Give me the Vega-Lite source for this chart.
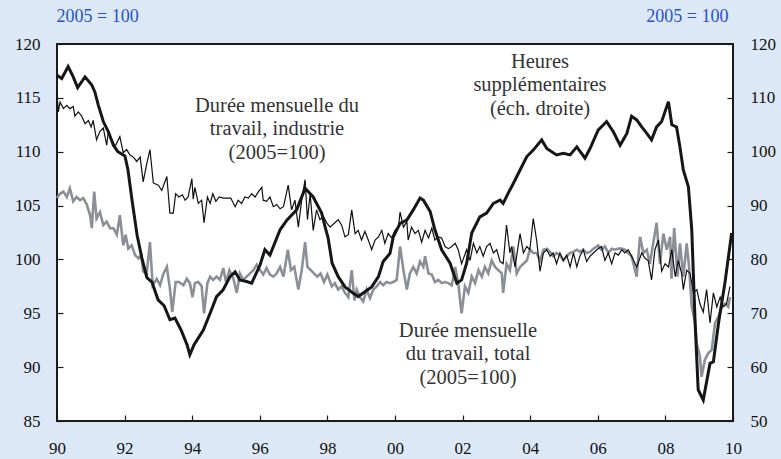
{
  "$schema": "https://vega.github.io/schema/vega-lite/v6.json",
  "width": 676,
  "height": 377,
  "autosize": {"type": "none"},
  "padding": {"left": 57, "top": 44, "right": 48, "bottom": 38},
  "background": "#dde8f7",
  "config": {
    "view": {"fill": "#ffffff", "stroke": "#1a1a1a", "strokeWidth": 2},
    "font": "Liberation Serif",
    "axis": {"grid": false, "domain": false, "tickColor": "#1a1a1a", "tickWidth": 1.2, "labelColor": "#111111", "labelFont": "Liberation Serif", "labelFontSize": 17}
  },
  "datasets": {
    "ot": [
      {"t":1990.00,"v":114.2},{"t":1990.14,"v":113.6},{"t":1990.33,"v":115.8},{"t":1990.48,"v":113.9},{"t":1990.61,"v":111.9},{"t":1990.83,"v":113.9},{"t":1991.03,"v":112.4},{"t":1991.12,"v":111.1},{"t":1991.22,"v":108.7},{"t":1991.37,"v":105.6},{"t":1991.52,"v":103.7},{"t":1991.67,"v":101.2},{"t":1991.80,"v":100.0},{"t":1992.01,"v":99.2},{"t":1992.10,"v":96.6},{"t":1992.22,"v":91.0},{"t":1992.37,"v":84.5},{"t":1992.51,"v":80.3},{"t":1992.66,"v":76.6},{"t":1992.81,"v":75.8},{"t":1992.99,"v":72.5},{"t":1993.17,"v":71.4},{"t":1993.34,"v":68.8},{"t":1993.49,"v":69.1},{"t":1993.67,"v":66.9},{"t":1993.85,"v":64.1},{"t":1993.93,"v":62.3},{"t":1994.05,"v":64.1},{"t":1994.33,"v":66.9},{"t":1994.53,"v":70.0},{"t":1994.72,"v":73.1},{"t":1994.91,"v":74.3},{"t":1995.12,"v":76.8},{"t":1995.27,"v":77.7},{"t":1995.41,"v":76.2},{"t":1995.61,"v":75.9},{"t":1995.76,"v":75.6},{"t":1996.01,"v":79.0},{"t":1996.15,"v":81.8},{"t":1996.30,"v":80.8},{"t":1996.60,"v":85.5},{"t":1996.80,"v":87.3},{"t":1997.09,"v":89.2},{"t":1997.34,"v":93.2},{"t":1997.58,"v":91.6},{"t":1997.83,"v":88.6},{"t":1997.93,"v":86.1},{"t":1998.02,"v":84.0},{"t":1998.14,"v":79.3},{"t":1998.32,"v":76.8},{"t":1998.52,"v":74.9},{"t":1998.77,"v":73.7},{"t":1998.91,"v":73.1},{"t":1999.11,"v":74.0},{"t":1999.31,"v":74.9},{"t":1999.51,"v":76.8},{"t":1999.65,"v":79.6},{"t":1999.85,"v":81.1},{"t":1999.95,"v":84.2},{"t":2000.15,"v":86.7},{"t":2000.35,"v":87.3},{"t":2000.54,"v":89.2},{"t":2000.74,"v":91.4},{"t":2000.84,"v":91.0},{"t":2001.04,"v":88.9},{"t":2001.18,"v":85.5},{"t":2001.38,"v":81.8},{"t":2001.63,"v":79.3},{"t":2001.83,"v":75.6},{"t":2001.97,"v":76.2},{"t":2002.12,"v":79.3},{"t":2002.27,"v":84.9},{"t":2002.51,"v":87.9},{"t":2002.71,"v":88.6},{"t":2002.91,"v":90.4},{"t":2003.11,"v":91.0},{"t":2003.20,"v":90.4},{"t":2003.35,"v":92.3},{"t":2003.50,"v":94.1},{"t":2003.70,"v":96.6},{"t":2003.90,"v":99.1},{"t":2004.09,"v":100.3},{"t":2004.34,"v":102.2},{"t":2004.49,"v":100.6},{"t":2004.78,"v":99.4},{"t":2004.98,"v":99.7},{"t":2005.18,"v":99.4},{"t":2005.38,"v":100.9},{"t":2005.62,"v":98.8},{"t":2005.77,"v":100.6},{"t":2006.01,"v":104.0},{"t":2006.26,"v":105.6},{"t":2006.46,"v":103.7},{"t":2006.66,"v":101.2},{"t":2006.86,"v":103.4},{"t":2007.00,"v":106.6},{"t":2007.15,"v":105.9},{"t":2007.30,"v":104.6},{"t":2007.45,"v":103.4},{"t":2007.59,"v":102.2},{"t":2007.74,"v":104.6},{"t":2007.89,"v":105.6},{"t":2008.09,"v":109.3},{"t":2008.19,"v":105.0},{"t":2008.33,"v":104.6},{"t":2008.43,"v":100.9},{"t":2008.53,"v":96.6},{"t":2008.68,"v":93.5},{"t":2008.78,"v":85.5},{"t":2008.88,"v":68.1},{"t":2008.97,"v":55.8},{"t":2009.12,"v":53.9},{"t":2009.32,"v":60.7},{"t":2009.42,"v":61.0},{"t":2009.57,"v":68.1},{"t":2009.76,"v":75.6},{"t":2009.96,"v":84.9}
    ],
    "ind": [
      {"t":1990.00,"v":115.4},{"t":1990.04,"v":113.7},{"t":1990.09,"v":114.6},{"t":1990.19,"v":114.0},{"t":1990.29,"v":114.3},{"t":1990.38,"v":114.0},{"t":1990.48,"v":114.2},{"t":1990.53,"v":113.3},{"t":1990.63,"v":113.7},{"t":1990.73,"v":113.3},{"t":1990.83,"v":112.6},{"t":1990.93,"v":112.9},{"t":1991.01,"v":112.3},{"t":1991.07,"v":112.9},{"t":1991.17,"v":111.1},{"t":1991.27,"v":111.9},{"t":1991.37,"v":112.2},{"t":1991.47,"v":110.6},{"t":1991.52,"v":111.9},{"t":1991.62,"v":111.1},{"t":1991.72,"v":110.5},{"t":1991.86,"v":111.4},{"t":1991.96,"v":109.9},{"t":1992.06,"v":110.2},{"t":1992.16,"v":109.7},{"t":1992.26,"v":109.5},{"t":1992.36,"v":109.1},{"t":1992.46,"v":109.5},{"t":1992.55,"v":107.2},{"t":1992.65,"v":108.8},{"t":1992.75,"v":110.2},{"t":1992.85,"v":107.1},{"t":1993.00,"v":106.9},{"t":1993.10,"v":106.4},{"t":1993.25,"v":107.7},{"t":1993.34,"v":104.3},{"t":1993.44,"v":104.3},{"t":1993.51,"v":106.1},{"t":1993.61,"v":105.8},{"t":1993.71,"v":106.0},{"t":1993.79,"v":105.5},{"t":1993.88,"v":105.8},{"t":1993.99,"v":107.5},{"t":1994.03,"v":105.6},{"t":1994.08,"v":106.7},{"t":1994.18,"v":105.2},{"t":1994.28,"v":105.5},{"t":1994.35,"v":103.4},{"t":1994.45,"v":105.8},{"t":1994.53,"v":105.2},{"t":1994.61,"v":106.1},{"t":1994.70,"v":105.4},{"t":1994.80,"v":105.8},{"t":1994.92,"v":105.7},{"t":1995.02,"v":105.7},{"t":1995.14,"v":105.7},{"t":1995.27,"v":104.9},{"t":1995.36,"v":105.5},{"t":1995.46,"v":105.2},{"t":1995.56,"v":105.8},{"t":1995.66,"v":105.7},{"t":1995.76,"v":106.1},{"t":1995.86,"v":105.8},{"t":1995.96,"v":106.3},{"t":1996.06,"v":106.7},{"t":1996.10,"v":105.5},{"t":1996.20,"v":105.4},{"t":1996.30,"v":105.8},{"t":1996.40,"v":104.9},{"t":1996.50,"v":105.1},{"t":1996.60,"v":104.7},{"t":1996.70,"v":104.9},{"t":1996.84,"v":106.9},{"t":1996.94,"v":104.6},{"t":1997.04,"v":105.5},{"t":1997.14,"v":103.0},{"t":1997.24,"v":105.5},{"t":1997.34,"v":107.4},{"t":1997.41,"v":103.7},{"t":1997.49,"v":106.1},{"t":1997.58,"v":102.7},{"t":1997.68,"v":104.6},{"t":1997.78,"v":103.7},{"t":1997.88,"v":104.0},{"t":1997.98,"v":103.4},{"t":1998.08,"v":103.0},{"t":1998.22,"v":103.4},{"t":1998.32,"v":103.7},{"t":1998.42,"v":103.2},{"t":1998.52,"v":102.1},{"t":1998.62,"v":102.3},{"t":1998.72,"v":104.6},{"t":1998.82,"v":102.4},{"t":1998.91,"v":102.7},{"t":1999.01,"v":101.8},{"t":1999.11,"v":102.6},{"t":1999.21,"v":101.8},{"t":1999.31,"v":100.9},{"t":1999.41,"v":101.8},{"t":1999.51,"v":102.1},{"t":1999.61,"v":102.7},{"t":1999.70,"v":101.5},{"t":1999.80,"v":102.4},{"t":1999.90,"v":102.0},{"t":2000.00,"v":102.7},{"t":2000.10,"v":103.0},{"t":2000.15,"v":104.4},{"t":2000.25,"v":103.0},{"t":2000.35,"v":103.5},{"t":2000.39,"v":101.8},{"t":2000.49,"v":103.0},{"t":2000.59,"v":102.4},{"t":2000.69,"v":102.7},{"t":2000.79,"v":101.6},{"t":2000.89,"v":102.7},{"t":2000.99,"v":102.0},{"t":2001.09,"v":102.9},{"t":2001.18,"v":101.8},{"t":2001.28,"v":102.1},{"t":2001.38,"v":102.0},{"t":2001.48,"v":101.2},{"t":2001.58,"v":101.0},{"t":2001.68,"v":101.2},{"t":2001.78,"v":101.5},{"t":2001.87,"v":100.9},{"t":2001.97,"v":99.6},{"t":2002.12,"v":100.9},{"t":2002.22,"v":99.9},{"t":2002.32,"v":101.5},{"t":2002.42,"v":100.6},{"t":2002.51,"v":101.2},{"t":2002.61,"v":100.3},{"t":2002.71,"v":101.2},{"t":2002.81,"v":101.5},{"t":2002.91,"v":100.6},{"t":2003.01,"v":100.9},{"t":2003.11,"v":99.8},{"t":2003.20,"v":99.6},{"t":2003.30,"v":103.2},{"t":2003.40,"v":100.6},{"t":2003.45,"v":101.2},{"t":2003.55,"v":99.3},{"t":2003.70,"v":102.4},{"t":2003.80,"v":100.6},{"t":2003.90,"v":101.2},{"t":2003.99,"v":100.9},{"t":2004.09,"v":103.8},{"t":2004.19,"v":101.8},{"t":2004.29,"v":98.9},{"t":2004.39,"v":100.6},{"t":2004.49,"v":100.9},{"t":2004.59,"v":100.3},{"t":2004.68,"v":100.6},{"t":2004.78,"v":99.6},{"t":2004.88,"v":100.6},{"t":2004.98,"v":99.9},{"t":2005.08,"v":100.4},{"t":2005.18,"v":99.3},{"t":2005.28,"v":100.6},{"t":2005.38,"v":99.3},{"t":2005.47,"v":100.3},{"t":2005.57,"v":100.9},{"t":2005.67,"v":99.8},{"t":2005.77,"v":100.3},{"t":2005.87,"v":100.6},{"t":2005.97,"v":100.9},{"t":2006.01,"v":101.0},{"t":2006.11,"v":101.2},{"t":2006.21,"v":99.9},{"t":2006.31,"v":100.6},{"t":2006.41,"v":99.6},{"t":2006.51,"v":100.6},{"t":2006.61,"v":100.4},{"t":2006.71,"v":100.9},{"t":2006.80,"v":100.6},{"t":2006.90,"v":100.9},{"t":2007.00,"v":100.3},{"t":2007.15,"v":99.3},{"t":2007.30,"v":100.6},{"t":2007.40,"v":100.1},{"t":2007.49,"v":99.9},{"t":2007.59,"v":98.1},{"t":2007.69,"v":100.9},{"t":2007.79,"v":101.8},{"t":2007.89,"v":98.9},{"t":2007.99,"v":99.6},{"t":2008.09,"v":99.3},{"t":2008.19,"v":100.9},{"t":2008.29,"v":98.4},{"t":2008.38,"v":99.9},{"t":2008.48,"v":98.7},{"t":2008.53,"v":97.2},{"t":2008.63,"v":99.0},{"t":2008.73,"v":98.7},{"t":2008.83,"v":96.9},{"t":2008.93,"v":97.2},{"t":2009.02,"v":95.9},{"t":2009.12,"v":95.1},{"t":2009.22,"v":97.2},{"t":2009.32,"v":94.1},{"t":2009.42,"v":96.9},{"t":2009.52,"v":95.6},{"t":2009.62,"v":96.5},{"t":2009.71,"v":95.6},{"t":2009.81,"v":95.9},{"t":2009.91,"v":97.5}
    ],
    "tot": [
      {"t":1990.00,"v":105.7},{"t":1990.09,"v":106.1},{"t":1990.19,"v":106.3},{"t":1990.29,"v":105.8},{"t":1990.38,"v":106.6},{"t":1990.48,"v":105.4},{"t":1990.58,"v":105.8},{"t":1990.68,"v":105.5},{"t":1990.78,"v":105.7},{"t":1990.88,"v":105.1},{"t":1990.98,"v":104.1},{"t":1991.03,"v":102.9},{"t":1991.10,"v":106.3},{"t":1991.17,"v":103.8},{"t":1991.27,"v":104.4},{"t":1991.37,"v":103.2},{"t":1991.47,"v":103.5},{"t":1991.57,"v":102.9},{"t":1991.67,"v":102.9},{"t":1991.77,"v":102.3},{"t":1991.86,"v":104.1},{"t":1991.96,"v":101.3},{"t":1992.03,"v":102.3},{"t":1992.11,"v":101.0},{"t":1992.21,"v":101.3},{"t":1992.31,"v":100.4},{"t":1992.41,"v":100.1},{"t":1992.49,"v":100.4},{"t":1992.55,"v":98.9},{"t":1992.65,"v":98.6},{"t":1992.75,"v":101.6},{"t":1992.83,"v":97.6},{"t":1992.95,"v":98.2},{"t":1993.05,"v":97.6},{"t":1993.14,"v":98.6},{"t":1993.25,"v":99.3},{"t":1993.34,"v":97.3},{"t":1993.41,"v":95.1},{"t":1993.51,"v":97.9},{"t":1993.61,"v":97.9},{"t":1993.74,"v":97.6},{"t":1993.84,"v":98.2},{"t":1993.93,"v":97.8},{"t":1994.01,"v":96.5},{"t":1994.08,"v":97.8},{"t":1994.18,"v":97.9},{"t":1994.28,"v":97.5},{"t":1994.35,"v":95.0},{"t":1994.45,"v":97.8},{"t":1994.53,"v":98.4},{"t":1994.62,"v":98.1},{"t":1994.72,"v":98.4},{"t":1994.82,"v":98.1},{"t":1994.92,"v":99.2},{"t":1995.00,"v":97.9},{"t":1995.10,"v":99.0},{"t":1995.22,"v":98.2},{"t":1995.32,"v":96.9},{"t":1995.41,"v":98.7},{"t":1995.51,"v":98.1},{"t":1995.61,"v":98.4},{"t":1995.71,"v":98.7},{"t":1995.81,"v":99.0},{"t":1995.91,"v":99.5},{"t":1996.01,"v":99.0},{"t":1996.10,"v":98.6},{"t":1996.20,"v":99.2},{"t":1996.30,"v":98.6},{"t":1996.40,"v":98.4},{"t":1996.50,"v":98.7},{"t":1996.60,"v":99.3},{"t":1996.70,"v":98.4},{"t":1996.83,"v":100.9},{"t":1996.92,"v":99.0},{"t":1997.02,"v":99.3},{"t":1997.14,"v":97.2},{"t":1997.24,"v":99.0},{"t":1997.34,"v":101.6},{"t":1997.41,"v":99.3},{"t":1997.51,"v":99.0},{"t":1997.60,"v":98.7},{"t":1997.70,"v":98.4},{"t":1997.80,"v":98.7},{"t":1997.90,"v":97.9},{"t":1998.00,"v":98.6},{"t":1998.13,"v":97.5},{"t":1998.22,"v":97.8},{"t":1998.32,"v":97.2},{"t":1998.42,"v":97.5},{"t":1998.52,"v":96.9},{"t":1998.62,"v":96.5},{"t":1998.72,"v":99.0},{"t":1998.80,"v":96.2},{"t":1998.87,"v":97.2},{"t":1998.96,"v":96.5},{"t":1999.06,"v":96.1},{"t":1999.16,"v":97.2},{"t":1999.26,"v":96.4},{"t":1999.36,"v":97.2},{"t":1999.46,"v":97.5},{"t":1999.56,"v":97.9},{"t":1999.65,"v":97.6},{"t":1999.75,"v":97.9},{"t":1999.85,"v":97.8},{"t":1999.95,"v":97.9},{"t":2000.05,"v":98.1},{"t":2000.15,"v":101.2},{"t":2000.25,"v":99.0},{"t":2000.35,"v":97.2},{"t":2000.44,"v":98.7},{"t":2000.54,"v":99.3},{"t":2000.64,"v":98.7},{"t":2000.74,"v":99.8},{"t":2000.84,"v":99.3},{"t":2000.89,"v":100.3},{"t":2000.99,"v":98.7},{"t":2001.09,"v":98.6},{"t":2001.18,"v":97.9},{"t":2001.28,"v":98.1},{"t":2001.38,"v":97.8},{"t":2001.48,"v":97.9},{"t":2001.58,"v":97.8},{"t":2001.68,"v":97.6},{"t":2001.78,"v":99.3},{"t":2001.87,"v":97.8},{"t":2001.97,"v":95.0},{"t":2002.07,"v":97.5},{"t":2002.17,"v":96.9},{"t":2002.27,"v":98.4},{"t":2002.37,"v":97.8},{"t":2002.47,"v":99.0},{"t":2002.57,"v":98.4},{"t":2002.66,"v":99.3},{"t":2002.76,"v":98.7},{"t":2002.86,"v":99.9},{"t":2002.96,"v":99.3},{"t":2003.06,"v":99.0},{"t":2003.16,"v":98.7},{"t":2003.20,"v":96.9},{"t":2003.30,"v":99.6},{"t":2003.40,"v":99.0},{"t":2003.50,"v":101.2},{"t":2003.60,"v":98.7},{"t":2003.70,"v":99.3},{"t":2003.80,"v":99.6},{"t":2003.90,"v":99.9},{"t":2003.99,"v":100.9},{"t":2004.09,"v":100.6},{"t":2004.19,"v":100.6},{"t":2004.29,"v":99.9},{"t":2004.39,"v":100.9},{"t":2004.49,"v":101.0},{"t":2004.59,"v":100.7},{"t":2004.68,"v":100.3},{"t":2004.78,"v":100.6},{"t":2004.88,"v":100.4},{"t":2004.98,"v":99.9},{"t":2005.08,"v":100.3},{"t":2005.18,"v":100.6},{"t":2005.28,"v":100.7},{"t":2005.38,"v":100.9},{"t":2005.47,"v":100.7},{"t":2005.57,"v":100.9},{"t":2005.67,"v":100.6},{"t":2005.77,"v":100.7},{"t":2005.87,"v":101.0},{"t":2005.97,"v":101.2},{"t":2006.01,"v":101.3},{"t":2006.11,"v":100.9},{"t":2006.21,"v":101.2},{"t":2006.31,"v":100.6},{"t":2006.41,"v":101.0},{"t":2006.51,"v":100.9},{"t":2006.61,"v":101.0},{"t":2006.71,"v":101.0},{"t":2006.80,"v":100.9},{"t":2006.90,"v":100.6},{"t":2007.00,"v":100.3},{"t":2007.15,"v":98.4},{"t":2007.25,"v":102.1},{"t":2007.35,"v":100.6},{"t":2007.45,"v":100.9},{"t":2007.54,"v":99.6},{"t":2007.64,"v":101.5},{"t":2007.74,"v":103.4},{"t":2007.84,"v":99.6},{"t":2007.94,"v":102.4},{"t":2008.04,"v":100.9},{"t":2008.14,"v":102.1},{"t":2008.18,"v":98.2},{"t":2008.26,"v":102.9},{"t":2008.36,"v":98.4},{"t":2008.43,"v":101.5},{"t":2008.53,"v":98.4},{"t":2008.63,"v":101.5},{"t":2008.70,"v":99.3},{"t":2008.78,"v":95.6},{"t":2008.88,"v":94.1},{"t":2008.93,"v":92.2},{"t":2009.02,"v":91.0},{"t":2009.07,"v":89.1},{"t":2009.17,"v":90.7},{"t":2009.27,"v":91.3},{"t":2009.37,"v":91.6},{"t":2009.47,"v":94.1},{"t":2009.57,"v":94.7},{"t":2009.67,"v":95.6},{"t":2009.76,"v":95.9},{"t":2009.86,"v":95.6},{"t":2009.91,"v":96.5}
    ],
    "notes": [
      {"t":1996.51,"v":115.2,"label":"Durée mensuelle du\ntravail, industrie\n(2005=100)"},
      {"t":2004.29,"v":119.28,"label":"Heures\nsupplémentaires\n(éch. droite)"},
      {"t":2002.16,"v":94.3,"label":"Durée mensuelle\ndu travail, total\n(2005=100)"}
    ]
  },
  "layer": [
    {
      "layer": [
        {
          "data": {"name": "tot"},
          "mark": {"type": "line", "color": "#8b9096", "strokeWidth": 2.6},
          "encoding": {
            "x": {"field": "t", "type": "quantitative", "scale": {"domain": [1990, 2010], "nice": false, "zero": false},
              "axis": {"orient": "bottom", "values": [1990,1992,1994,1996,1998,2000,2002,2004,2006,2008,2010], "labelExpr": "substring(toString(datum.value), 2)", "tickSize": -6, "labelPadding": 25, "title": null, "labelFlush": false}},
            "y": {"field": "v", "type": "quantitative", "scale": {"domain": [85, 120], "nice": false, "zero": false},
              "axis": {"orient": "left", "values": [85,90,95,100,105,110,115,120], "tickSize": -6, "labelPadding": 23, "title": "2005 = 100", "titleAngle": 0, "titleAlign": "left", "titleBaseline": "middle", "titleX": -1, "titleY": -28, "titleColor": "#2453c9", "titleFontSize": 18, "titleFontWeight": "normal", "titleFont": "Liberation Serif"}}
          }
        },
        {
          "data": {"name": "ind"},
          "mark": {"type": "line", "color": "#111111", "strokeWidth": 1.2},
          "encoding": {
            "x": {"field": "t", "type": "quantitative"},
            "y": {"field": "v", "type": "quantitative"}
          }
        },
        {
          "data": {"name": "notes"},
          "mark": {"type": "text", "lineBreak": "\n", "fontSize": 20.5, "align": "center", "baseline": "top", "lineHeight": 23.5, "color": "#333333", "font": "Liberation Serif"},
          "encoding": {
            "x": {"field": "t", "type": "quantitative"},
            "y": {"field": "v", "type": "quantitative"},
            "text": {"field": "label"}
          }
        }
      ]
    },
    {
      "data": {"name": "ot"},
      "mark": {"type": "line", "color": "#161616", "strokeWidth": 3},
      "encoding": {
        "x": {"field": "t", "type": "quantitative"},
        "y": {"field": "v", "type": "quantitative", "scale": {"domain": [50, 120], "nice": false, "zero": false},
          "axis": {"orient": "right", "values": [50,60,70,80,90,100,110,120], "tickSize": -6, "labelPadding": 23, "title": "2005 = 100", "titleAngle": 0, "titleAlign": "right", "titleBaseline": "middle", "titleX": -5, "titleY": -28, "titleColor": "#2453c9", "titleFontSize": 18, "titleFontWeight": "normal", "titleFont": "Liberation Serif"}}
      }
    }
  ],
  "resolve": {"scale": {"y": "independent"}}
}
